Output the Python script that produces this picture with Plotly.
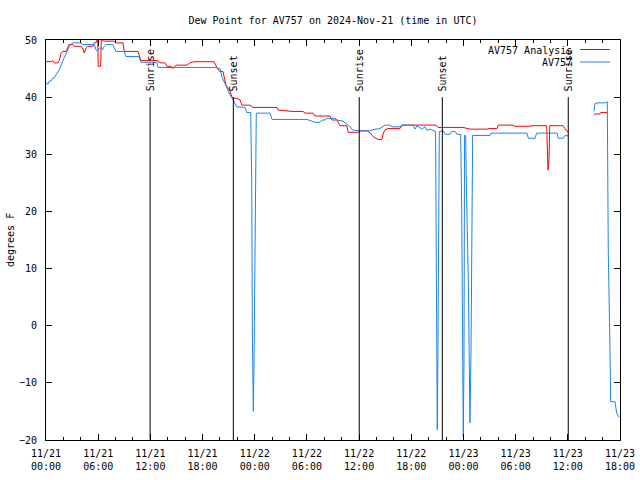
import pandas as pd
import plotly.graph_objects as go

BASE = pd.Timestamp("2024-11-21 00:00")

# ---- data (hours since 2024-11-21 00:00 UTC, dew point degF) ----
analysis_hours = [0.00, 0.575, 0.77, 0.95, 1.38, 1.53, 1.72, 1.95, 2.30, 2.50, 2.64, 3.10, 3.25, 4.02,
                  4.22, 4.40, 4.60, 4.79, 5.37, 5.55, 5.75, 5.94, 6.01, 6.29, 6.36, 6.52, 6.67, 7.82,
                  8.05, 8.85, 9.00, 10.58, 10.73, 10.92, 12.76, 13.11, 13.68, 13.91, 14.49, 14.60,
                  14.95, 16.21, 16.56, 17.02, 19.32, 19.43, 19.78, 20.01, 20.35, 20.70, 21.16, 21.39,
                  21.50, 21.96, 22.31, 22.54, 23.46, 23.80, 26.56, 26.68, 28.29, 29.55, 29.78, 30.70,
                  30.93, 32.66, 32.85, 33.46, 33.61, 33.80, 34.57, 34.76, 35.87, 36.10, 36.91, 37.25,
                  37.60, 38.17, 38.63, 38.78, 38.98, 39.32, 40.70, 40.93, 44.84, 45.07, 47.95, 48.75,
                  50.71, 50.94, 51.86, 52.01, 53.70, 53.93, 55.65, 55.88, 57.57, 57.64, 57.72, 57.84,
                  57.92, 59.45, 59.68, 59.91, 60.02, 61.00, 63.01, 63.70, 63.78, 64.54]
analysis_values = [46.2, 46.2, 46.4, 46.0, 46.0, 46.4, 47.7, 48.0, 48.0, 48.6, 49.2, 49.2, 48.9, 48.9,
                   48.6, 47.7, 48.6, 48.9, 48.9, 49.5, 49.5, 50.5, 45.4, 45.4, 50.5, 49.9, 49.8, 49.8,
                   49.5, 49.5, 48.0, 48.0, 47.4, 46.4, 46.4, 46.0, 46.0, 45.4, 45.3, 45.0,
                   45.6, 45.6, 46.0, 46.2, 46.2, 45.9, 44.8, 44.5, 44.5, 42.1, 41.0, 40.0,
                   39.8, 39.8, 39.5, 38.6, 38.6, 38.2, 38.2, 37.75, 37.5, 37.5, 37.2, 37.2,
                   36.7, 36.7, 36.0, 36.0, 35.4, 35.0, 35.0, 33.85, 33.85, 34.1, 34.1, 33.8,
                   33.1, 32.6, 32.6, 33.7, 34.25, 34.5, 34.5, 35.1, 35.1, 34.7, 34.7, 34.4,
                   34.4, 34.5, 34.5, 35.1, 35.1, 34.9, 34.9, 35.0, 35.0, 29.3, 27.25, 29.3,
                   35.0, 35.0, 34.4, 34.0, 34.0, None, 37.05, 37.05, 37.3, 37.3]

obs_hours = [0.00, 0.20, 0.38, 0.575, 0.77, 0.95, 1.15, 1.53, 1.92, 2.30, 2.68, 3.07, 4.02, 4.22,
             5.55, 5.75, 5.94, 6.13, 6.32, 6.52, 6.70, 6.90, 7.67, 7.85, 8.05, 8.97, 9.20, 10.69,
             10.92, 12.76, 12.88, 19.55, 19.78, 20.01, 20.24, 20.70, 21.16, 21.54, 21.93, 22.88,
             23.08, 23.54, 23.66, 23.73, 23.84, 23.92, 24.03, 24.15, 24.18, 25.76, 25.99, 30.01,
             30.16, 30.93, 31.51, 31.74, 32.08, 32.31, 33.23, 33.46, 34.15, 34.96, 35.19, 35.88,
             37.25, 37.60, 38.40, 38.63, 38.98, 39.56, 39.78, 40.70, 40.93, 42.20, 42.43, 42.66,
             43.20, 43.58, 43.81, 44.15, 44.50, 44.79, 44.84, 44.92, 44.99, 45.07, 45.15, 45.22,
             45.42, 45.65, 45.88, 46.45, 46.68, 47.03, 47.26, 47.68, 47.80, 47.87, 47.98, 48.06,
             48.10, 48.13, 48.26, 48.33, 48.56, 48.68, 48.75, 48.87, 48.95, 49.06, 51.05, 51.17,
             55.31, 55.46, 56.23, 56.42, 58.75, 58.90, 59.45, 59.64, 60.10, 61.00, 63.01, 63.12,
             63.47, 64.28, 64.54, 64.56, 64.65, 64.85, 64.93, 65.42, 65.62, 65.88]
obs_values = [42.65, 42.2, 42.8, 42.8, 43.35, 43.35, 43.9, 44.8, 46.3, 47.7, 48.9, 49.5, 49.5, 49.2,
              49.2, 48.3, 48.0, 48.6, 48.6, 48.3, 48.9, 49.2, 49.2, 48.6, 48.0, 48.0, 47.1, 47.1,
              46.1, 46.1, 45.2, 45.2, 45.0, 45.0, 43.5, 42.0, 40.4, 39.5, 38.3, 38.2,
              37.3, 37.3, 24.3, -2.0, -15.0, -6.3, 11.2, 28.7, 37.2, 37.2, 36.1, 36.1,
              36.0, 35.6, 35.6, 36.0, 36.0, 36.3, 36.3, 36.0, 35.8, 34.8, 34.3, 34.1,
              34.1, 34.3, 34.5, 34.8, 35.1, 35.1, 34.8, 34.8, 35.1, 35.1, 34.4, 35.0,
              34.4, 34.8, 34.2, 34.4, 34.2, 34.0, 21.0, -4.0, -18.2, -4.0, 21.0, 34.0,
              34.0, 34.2, 33.5, 33.5, 34.0, 34.0, 33.5, 33.5, 20.0, -6.3, -19.4, -6.3,
              20.0, 33.3, 33.3, 25.0, 8.0, -8.6, -17.0, -4.25, 20.8, 33.3, 33.3, 33.7,
              33.7, 32.8, 32.8, 33.7, 33.7, 32.8, 32.8, 33.25, 33.25, None, 37.5, 38.9,
              39.0, 39.0, 39.2, 30.75, 13.25, -4.25, -13.3, -13.3, -15.3, -16.0]

event_hours = [11.97, 21.54, 36.02, 45.57, 60.05]
event_labels = ["Sunrise", "Sunset", "Sunrise", "Sunset", "Sunrise"]

tick_hours = [0, 6, 12, 18, 24, 30, 36, 42, 48, 54, 60, 66]
tick_labels = ["11/21<br>00:00", "11/21<br>06:00", "11/21<br>12:00", "11/21<br>18:00",
               "11/22<br>00:00", "11/22<br>06:00", "11/22<br>12:00", "11/22<br>18:00",
               "11/23<br>00:00", "11/23<br>06:00", "11/23<br>12:00", "11/23<br>18:00"]

series_names = ["AV757 Analysis", "AV757"]
RED = "#ff0000"
BLUE = "#1a84f0"
FONT = "DejaVu Sans Mono"


def to_time(hours):
    return [BASE + pd.Timedelta(hours=h) for h in hours]


fig = go.Figure()
fig.add_trace(go.Scatter(x=to_time(analysis_hours), y=analysis_values, mode="lines",
                         name=series_names[0], line=dict(color=RED, width=1),
                         connectgaps=False, showlegend=False, hoverinfo="skip"))
fig.add_trace(go.Scatter(x=to_time(obs_hours), y=obs_values, mode="lines",
                         name=series_names[1], line=dict(color=BLUE, width=1),
                         connectgaps=False, showlegend=False, hoverinfo="skip"))

shapes = []
annotations = []
for h, lab in zip(event_hours, event_labels):
    t = BASE + pd.Timedelta(hours=h)
    shapes.append(dict(type="line", xref="x", yref="y", x0=t, x1=t, y0=-20, y1=40,
                       line=dict(color="black", width=1)))
    annotations.append(dict(x=t, y=40, xref="x", yref="y", text=lab, textangle=-90,
                            showarrow=False, xanchor="center", yanchor="bottom", yshift=4,
                            font=dict(family=FONT, size=10, color="black")))

# gnuplot-style key (text right, sample to the right)
L, R, T, B = 46, 620, 40, 440


def px(xp):
    return (xp - L) / (R - L)


def py(yp):
    return (B - yp) / (B - T)


key_rows = [(series_names[0], RED, 50), (series_names[1], BLUE, 62.5)]
for name, col, yp in key_rows:
    annotations.append(dict(x=px(574), y=py(yp), xref="paper", yref="paper", text=name,
                            showarrow=False, xanchor="right", yanchor="middle",
                            font=dict(family=FONT, size=10, color="black")))
    shapes.append(dict(type="line", xref="paper", yref="paper", x0=px(580), x1=px(610),
                       y0=py(yp - 0.5), y1=py(yp - 0.5), line=dict(color=col, width=1)))

annotations.append(dict(x=px(10), y=0.5, xref="paper", yref="paper", text="degrees F",
                        textangle=-90, showarrow=False, xanchor="center", yanchor="middle",
                        font=dict(family=FONT, size=10, color="black")))

fig.update_layout(
    width=640, height=480,
    margin=dict(l=L, r=640 - R, t=T, b=480 - B, autoexpand=False),
    paper_bgcolor="white", plot_bgcolor="white",
    font=dict(family=FONT, size=10, color="black"),
    title=dict(text="Dew Point for AV757 on 2024-Nov-21 (time in UTC)", x=0.5, xref="paper",
               y=1 - 20 / 480, yanchor="middle", xanchor="center",
               font=dict(family=FONT, size=10, color="black")),
    shapes=shapes, annotations=annotations, showlegend=False, hovermode=False,
)
fig.update_xaxes(
    type="date", automargin=False,
    range=[BASE, BASE + pd.Timedelta(hours=66)],
    tickmode="array", tickvals=to_time(tick_hours), ticktext=tick_labels,
    ticks="inside", ticklen=6, tickcolor="black", tickwidth=1,
    showline=True, linecolor="black", linewidth=1, mirror="allticks",
    showgrid=False, zeroline=False,
    minor=dict(tickmode="linear", tick0=BASE, dtick=2 * 3600 * 1000, ticks="inside",
               ticklen=3, tickcolor="black", showgrid=False),
    tickfont=dict(family=FONT, size=10, color="black"),
    ticklabelstandoff=4,
)
fig.update_yaxes(
    automargin=False,
    range=[-20, 50], tickmode="linear", tick0=-20, dtick=10,
    ticks="inside", ticklen=6, tickcolor="black", tickwidth=1,
    showline=True, linecolor="black", linewidth=1, mirror="allticks",
    showgrid=False, zeroline=False,
    tickfont=dict(family=FONT, size=10, color="black"),
    ticklabelstandoff=6,
)

fig.write_html("out.html", config={"displayModeBar": False},
               post_script="document.body.style.margin='0';document.body.style.overflow='hidden';")
